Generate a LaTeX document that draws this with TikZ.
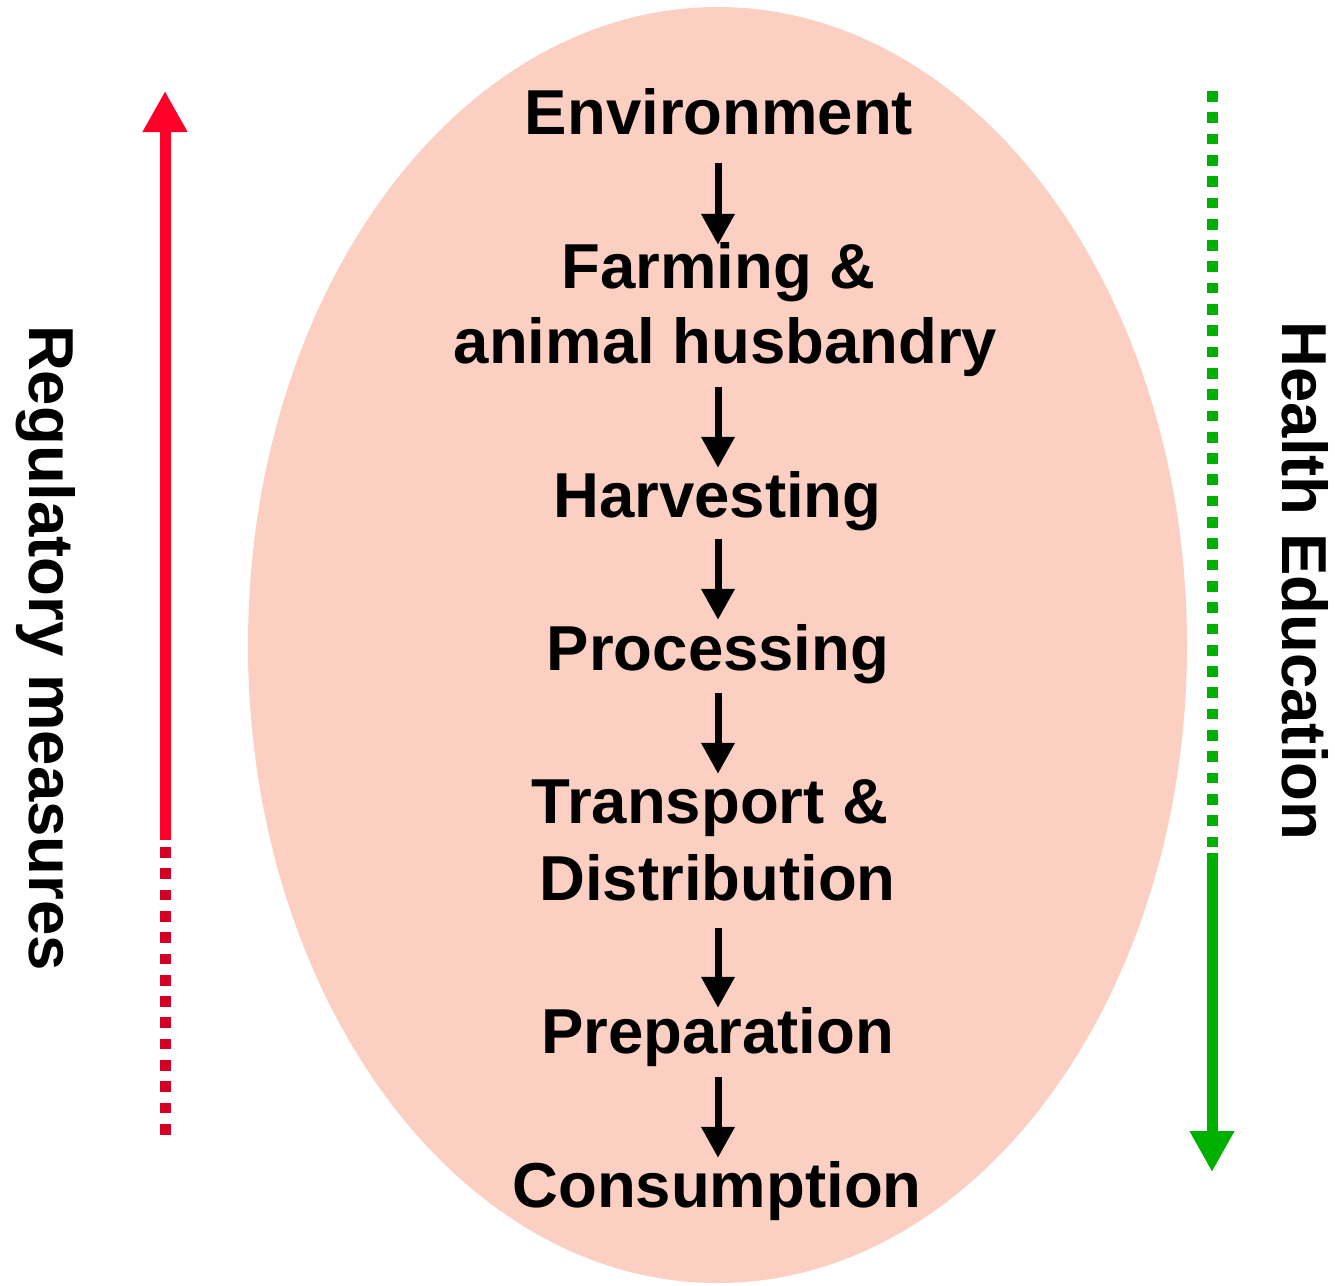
\documentclass[tikz,border=0pt]{standalone}
\usepackage{fontspec}
\setmainfont{Liberation Sans}
\usetikzlibrary{arrows.meta}
\definecolor{ellfill}{RGB}{251,208,194}
\definecolor{redsolid}{RGB}{255,0,41}
\definecolor{reddark}{RGB}{212,0,36}
\definecolor{greenline}{RGB}{0,176,0}
\tikzset{
  stage/.style={inner sep=0pt, anchor=base, text height=46pt, text depth=13.5pt, font=\fontsize{63.5}{76}\selectfont\bfseries},
  sidelabel/.style={inner sep=0pt, anchor=base, rotate=-90, font=\fontsize{63.5}{76}\selectfont\bfseries},
  flow/.style={line width=7pt, -{Triangle[width=32pt,length=31pt]}},
  redarrow/.style={draw=redsolid, line width=11pt, -{Triangle[width=42pt,length=41pt]}, fill=redsolid},
  reddash/.style={draw=reddark, line width=11pt, dash pattern=on 10.7pt off 10.6pt},
  greenarrow/.style={draw=greenline, line width=11pt, -{Triangle[width=42pt,length=41pt]}, fill=greenline},
  greendash/.style={draw=greenline, line width=11pt, dash pattern=on 10.7pt off 10.6pt}
}
\begin{document}
\begin{tikzpicture}[x=1pt,y=-1pt]
\useasboundingbox (0,0) rectangle (1335,1285);
\fill[ellfill] (717.5,645) ellipse [x radius=469.5pt, y radius=638pt];

\node[stage] (env) at (719,134) {Environment};
\node[stage] (farm1) at (718.5,288) {Farming \&};
\node[stage] (farm2) at (725.5,363) {animal husbandry};
\node[stage] (harv) at (717.5,517) {Harvesting};
\node[stage] (proc) at (718,670) {Processing};
\node[stage] (trans1) at (710,823) {Transport \&};
\node[stage] (trans2) at (717.5,900) {Distribution};
\node[stage] (prep) at (717.5,1053) {Preparation};
\node[stage] (cons) at (717,1207) {Consumption};

\coordinate (axis) at (718,0);
\draw[flow, shorten <=15.5pt, shorten >=-3pt] (env.south -| axis) -- (farm1.north -| axis);
\draw[flow, shorten <=10.5pt, shorten >=3pt] (farm2.south -| axis) -- (harv.north -| axis);
\draw[flow, shorten <=8.5pt, shorten >=4pt] (harv.south -| axis) -- (proc.north -| axis);
\draw[flow, shorten <=9.5pt, shorten >=3pt] (proc.south -| axis) -- (trans1.north -| axis);
\draw[flow, shorten <=14.5pt, shorten >=-1pt] (trans2.south -| axis) -- (prep.north -| axis);
\draw[flow, shorten <=10.5pt, shorten >=3pt] (prep.south -| axis) -- (cons.north -| axis);

\node[sidelabel] (reg) at (29,648) {Regulatory measures};
\node[sidelabel] (hed) at (1282,581) {Health Education};

\coordinate (redtop) at (165,91);
\coordinate (redmid) at (165,840);
\coordinate (reddashtop) at (165,847);
\coordinate (redbot) at (165,1135);
\draw[redarrow] (redmid) -- (redtop);
\draw[reddash] (reddashtop) -- (redbot);

\coordinate (greentop) at (1212,91);
\coordinate (greendashend) at (1212,851);
\coordinate (greenmid) at (1212,853);
\coordinate (greenbot) at (1212,1172);
\draw[greendash] (greentop) -- (greendashend);
\draw[greenarrow] (greenmid) -- (greenbot);
\end{tikzpicture}
\end{document}
